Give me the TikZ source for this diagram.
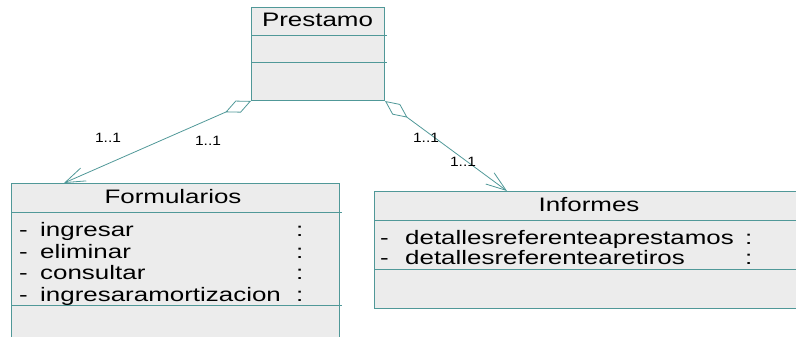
\documentclass[tikz,border=0pt]{standalone}
\usepackage{fontspec}
\setmainfont{Liberation Sans}[FakeStretch=1.33]
\newfontfamily\multfont{Liberation Sans}[FakeStretch=1.15]
\usetikzlibrary{positioning, arrows.meta}
\definecolor{umlteal}{RGB}{80,152,152}
\definecolor{umlgray}{RGB}{236,236,236}
\tikzset{classbox/.style={draw=umlteal,fill=umlgray,line width=1pt,inner sep=0pt,anchor=north west},
         classname/.style={font=\fontsize{19.5}{19.5}\selectfont,inner sep=0pt,anchor=base},
         attr/.style={font=\fontsize{19.5}{19.5}\selectfont,inner sep=0pt,anchor=base west},
         sep/.style={draw=umlteal,line width=1pt},
         mult/.style={font=\multfont\fontsize{13.5}{13.5}\selectfont,inner sep=0pt},
         assoc/.style={draw=umlteal,line width=0.8pt,{Diamond[open,length=28pt,width=13pt]}-{Straight Barb[length=20pt,width=14pt]}},
        }

\begin{document}
\begin{tikzpicture}[x=1pt,y=-1pt]
        \useasboundingbox (0,0) rectangle (796,337);
        \clip (0,0) rectangle (796,337);
        \node[classbox,minimum width=133pt,minimum height=93pt](prestamo)at(251,7){};
        \node[classbox,minimum width=328pt,minimum height=170pt](formularios)at(11,183){};
        \node[classbox,minimum width=440pt,minimum height=117pt](informes)at(374,191){};

        \draw[sep](251,36)--(387,36);
        \draw[sep](251,63)--(387,63);
        \draw[sep](11,212)--(342,212);
        \draw[sep](11,305)--(342,305);
        \draw[sep](374,220)--(796,220);
        \draw[sep](374,269)--(796,269);

        \node[classname](prestamo-name)at(317.5,27){Prestamo};
        \node[classname](formularios-name)at(173,203){Formularios};
        \node[classname](informes-name)at(589,211.5){Informes};

        \node[attr](f-ingresar)at(19,236.5){\makebox[21pt][l]{-}ingresar};
        \node[attr](f-eliminar)at(19,258){\makebox[21pt][l]{-}eliminar};
        \node[attr](f-consultar)at(19,279.5){\makebox[21pt][l]{-}consultar};
        \node[attr](f-amortizacion)at(19,301){\makebox[21pt][l]{-}ingresaramortizacion};
        \node[attr](f-c1)at(296,236.5){:};
        \node[attr](f-c2)at(296,258){:};
        \node[attr](f-c3)at(296,279.5){:};
        \node[attr](f-c4)at(296,301){:};

        \node[attr](i-prestamos)at(380,244){\makebox[25pt][l]{-}detallesreferenteaprestamos};
        \node[attr](i-retiros)at(380,264){\makebox[25pt][l]{-}detallesreferentearetiros};
        \node[attr](i-c1)at(745,244){:};
        \node[attr](i-c2)at(745,264){:};

        \coordinate(f-in)at(64,183);
        \coordinate(i-in)at(507,191);
        \draw[assoc](prestamo.south west)--(f-in);
        \draw[assoc](prestamo.south east)--(i-in);

        \node[mult](m1)at(108,138){1..1};
        \node[mult](m2)at(208,141){1..1};
        \node[mult](m3)at(426,138){1..1};
        \node[mult](m4)at(463,162){1..1};
    \end{tikzpicture}
\end{document}
